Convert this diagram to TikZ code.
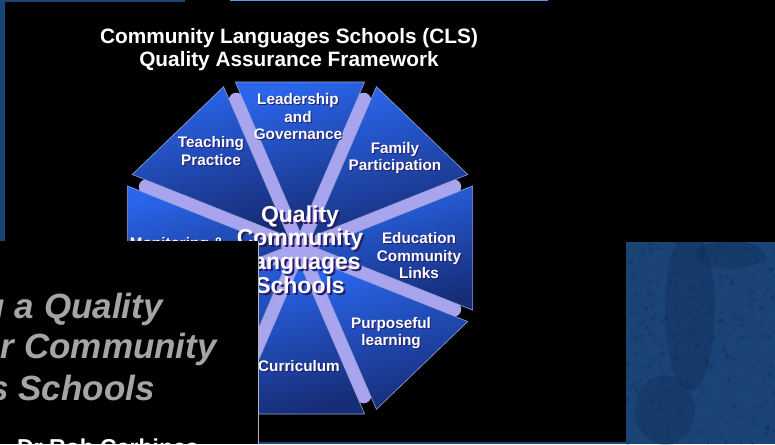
\documentclass[tikz,border=0pt]{standalone}
\usepackage{fontspec}
\setmainfont{Liberation Sans}
\usetikzlibrary{calc}

\definecolor{lav}{RGB}{168,164,238}
\definecolor{wbright}{RGB}{42,102,236}
\definecolor{wdark}{RGB}{22,44,118}
\definecolor{wedgeline}{RGB}{150,165,215}
\definecolor{texblue}{RGB}{27,68,118}
\definecolor{texdark}{RGB}{10,34,72}
\definecolor{texlight}{RGB}{58,106,160}
\definecolor{edgeblue}{RGB}{84,150,240}
\definecolor{slidegray}{RGB}{165,165,165}
\definecolor{shadowpurple}{RGB}{40,28,105}

\tikzset{
  wedge/.style={draw=wedgeline, line width=0.6pt, left color=wbright, right color=wdark},
  spoke/.style={draw=lav, line width=15pt, line cap=round},
  wlabel/.style={text=white, font=\fontsize{15.3}{17.5}\selectfont\bfseries, align=center, inner sep=0pt},
  wshadow/.style={wlabel, text=shadowpurple},
  hublabel/.style={text=white, font=\fontsize{23}{23.7}\selectfont\bfseries, align=center, inner sep=0pt},
  hubshadow/.style={hublabel, text=shadowpurple},
  titletext/.style={text=white, font=\fontsize{20.8}{23}\selectfont\bfseries, align=center, inner sep=0pt},
  covertext/.style={text=slidegray, font=\fontsize{35}{41}\selectfont\bfseries\itshape, inner sep=0pt, anchor=base east},
  blob/.style={fill=texdark, opacity=0.25}
}

% one exploded sector of the octagon, outward direction #1 (degrees);
% the shading turns with the scope, so its angle is given locally
\newcommand{\octwedge}[1]{%
  \begin{scope}[rotate=#1]
    \path[wedge, shading angle=15] (16,0) -- (166,62.1) -- (166,-62.1) -- cycle;
  \end{scope}}

% white label with a soft drop shadow
\newcommand{\wedgelabel}[3]{%
  \node[wshadow] (#1-sh) at ($(#2)+(1,1)$) {#3};
  \node[wlabel] (#1) at (#2) {#3};}

% fine mottled texture inside the current clip
\newcommand{\speckle}[5]{% x0, y0, width, height, count
  \foreach \i in {1,...,#5}{%
    \pgfmathsetmacro\rx{#1+#3*rnd}%
    \pgfmathsetmacro\ry{#2+#4*rnd}%
    \pgfmathsetmacro\rr{0.8+1.8*rnd}%
    \pgfmathsetmacro\op{0.06+0.16*rnd}%
    \fill[texdark, opacity=\op] (\rx,\ry) circle (\rr);
    \pgfmathsetmacro\sx{#1+#3*rnd}%
    \pgfmathsetmacro\sy{#2+#4*rnd}%
    \fill[texlight, opacity=0.15] (\sx,\sy) circle (0.7);
  }}

\begin{document}
\begin{tikzpicture}[x=1pt,y=-1pt]
  \useasboundingbox (0,0) rectangle (775,444);
  \pgfmathsetseed{11}

  % backdrop and slide
  \fill[texblue] (0,0) rectangle (775,444);
  \begin{scope}
    \clip (0,0) rectangle (185,2) (0,0) rectangle (5,444) (0,442) rectangle (775,444);
    \speckle{0}{0}{185}{444}{60}
  \end{scope}
  \fill[black] (5,2) rectangle (775,442);
  \fill[black] (185,0) rectangle (775,2);
  \fill[edgeblue] (230,0) rectangle (548,1.5);

  % textured panel on the right
  \begin{scope}
    \clip (626,242) rectangle (775,444);
    \fill[texblue] (626,242) rectangle (775,444);
    \fill[blob] (690,310) ellipse (25 and 80);
    \fill[blob] (665,410) ellipse (30 and 35);
    \fill[blob] (730,255) ellipse (35 and 14);
    \speckle{626}{242}{149}{202}{700}
  \end{scope}

  % the octagon: spokes behind, sectors on top
  \begin{scope}[shift={(300,248)}, xscale=1.04]
    \foreach \a in {22.5,67.5,...,337.5}
      {\draw[spoke] (0,0) -- (\a:160);}
    \fill[lav] (0,0) circle (18);
    \foreach \a in {0,45,...,315}
      {\octwedge{\a}}
  \end{scope}

  % title
  \node[titletext] (title) at (289,50) {Community Languages Schools (CLS)\\Quality Assurance Framework};

  % sector labels
  \wedgelabel{lead}{298,117}{Leadership\\and\\Governance}
  \wedgelabel{family}{395,158}{Family\\Participation}
  \wedgelabel{teach}{211,151}{Teaching\\Practice}
  \wedgelabel{educ}{419,256}{Education\\Community\\Links}
  \wedgelabel{purp}{391,333}{Purposeful\\learning}
  \wedgelabel{curr}{299,366}{Curriculum}
  \wedgelabel{monit}{177,245}{Monitoring \&}

  % hub label
  \node[hubshadow] (hub-sh) at (302,251.5) {Quality\\Community\\Languages\\Schools};
  \node[hublabel] (hub) at (300,249.5) {Quality\\Community\\Languages\\Schools};

  % slide lying over the lower left
  \fill[black] (0,241) rectangle (258,444);
  \draw[slidegray!80, line width=0.8pt] (258,241) -- (258,444);
  \begin{scope}
    \clip (0,241) rectangle (257.5,444);
    \node[covertext] (l1) at (163,318) {Developing a Quality};
    \node[covertext] (l2) at (217,358) {Framework for Community};
    \node[covertext] (l3) at (155,400) {Languages Schools};
    \node[text=white, font=\fontsize{23}{26}\selectfont\bfseries, inner sep=0pt, anchor=base west] (author) at (17,455) {Dr Rob Carbines};
  \end{scope}
\end{tikzpicture}
\end{document}
